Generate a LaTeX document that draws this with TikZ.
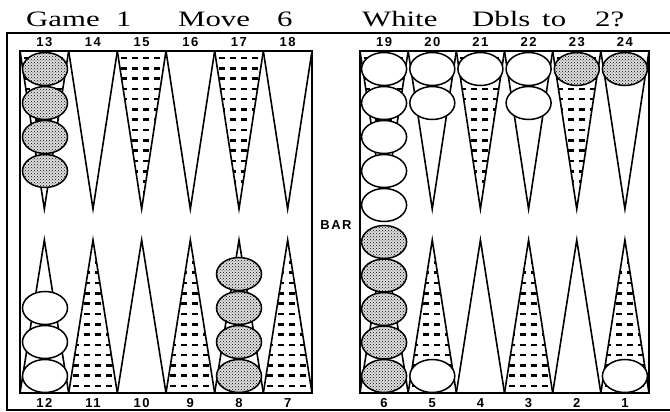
\documentclass[tikz,border=0pt]{standalone}
\usepackage{fontspec}
\usepackage{tikz}
\usetikzlibrary{shapes.geometric,patterns}
\newfontfamily\numfont[LetterSpace=12]{Liberation Sans}
\newfontfamily\ttlfont{Liberation Serif}
% one point: left x, width, base y, tip y
\newcommand{\bpoint}[4]{\draw[tri] (#1,#3) -- ({#1+#2/2},#4) -- ({#1+#2},#3);}
% point with rows of dashes, last arg 1 for top, -1 for bottom
\newcommand{\rowpoint}[5]{%
  \begin{scope}
    \clip (#1,#3) -- ({#1+#2/2},#4) -- ({#1+#2},#3) -- cycle;
    \foreach \r in {0,...,14}
      \draw[rowdash] ({#1+4},{#3+(#5)*(7+10.3*\r)}) -- ({#1+#2},{#3+(#5)*(7+10.3*\r)});
  \end{scope}
  \bpoint{#1}{#2}{#3}{#4}}

\begin{document}
\begin{tikzpicture}[x=1pt,y=-1pt]
\tikzstyle{frame}=[line width=1.5pt]
\tikzstyle{board}=[line width=2pt]
\tikzstyle{tri}=[line width=1.6pt]
\tikzstyle{rowdash}=[line width=2.6pt, dash pattern=on 6pt off 5pt]
\tikzstyle{wchk}=[ellipse, minimum width=45pt, minimum height=33pt, inner sep=0pt, draw, line width=1.5pt, fill=white]
\tikzstyle{dchk}=[wchk, preaction={fill=black!12}, pattern=crosshatch dots]
\tikzstyle{num}=[inner sep=0pt, font=\numfont\bfseries\fontsize{13}{13}\selectfont]
\tikzstyle{ttl}=[anchor=base west, inner sep=0pt, font=\ttlfont\fontsize{22}{22}\selectfont]

\useasboundingbox (0,0) rectangle (670,412);

	% title
	\node[ttl] (tgame) at (26,27) {\scalebox{1.4}[1]{Game}};
	\node[ttl] (tone) at (116,27) {\scalebox{1.4}[1]{1}};
	\node[ttl] (tmove) at (178,27) {\scalebox{1.4}[1]{Move}};
	\node[ttl] (tsix) at (277,27) {\scalebox{1.4}[1]{6}};
	\node[ttl] (twhite) at (362,27) {\scalebox{1.4}[1]{White}};
	\node[ttl] (tdbls) at (472,27) {\scalebox{1.4}[1]{Dbls}};
	\node[ttl] (tto) at (542,27) {\scalebox{1.4}[1]{to}};
	\node[ttl] (ttwo) at (595,27) {\scalebox{1.4}[1]{2?}};

	% frame and boards
	\draw[frame] (670,33) -- (7,33) -- (7,410) -- (670,410);
	\draw[board] (20,51) rectangle (312,393);
	\draw[board] (360,51) rectangle (649,393);

	% points, left board
	\rowpoint{20}{48.67}{51}{209}{1}
	\bpoint{68.67}{48.67}{51}{209}
	\rowpoint{117.33}{48.67}{51}{209}{1}
	\bpoint{166}{48.67}{51}{209}
	\rowpoint{214.67}{48.67}{51}{209}{1}
	\bpoint{263.33}{48.67}{51}{209}

	\bpoint{20}{48.67}{393}{240}
	\rowpoint{68.67}{48.67}{393}{240}{-1}
	\bpoint{117.33}{48.67}{393}{240}
	\rowpoint{166}{48.67}{393}{240}{-1}
	\bpoint{214.67}{48.67}{393}{240}
	\rowpoint{263.33}{48.67}{393}{240}{-1}

	% points, right board
	\rowpoint{360}{48.17}{51}{209}{1}
	\bpoint{408.17}{48.17}{51}{209}
	\rowpoint{456.33}{48.17}{51}{209}{1}
	\bpoint{504.5}{48.17}{51}{209}
	\rowpoint{552.67}{48.17}{51}{209}{1}
	\bpoint{600.83}{48.17}{51}{209}

	\bpoint{360}{48.17}{393}{240}
	\rowpoint{408.17}{48.17}{393}{240}{-1}
	\bpoint{456.33}{48.17}{393}{240}
	\rowpoint{504.5}{48.17}{393}{240}{-1}
	\bpoint{552.67}{48.17}{393}{240}
	\rowpoint{600.83}{48.17}{393}{240}{-1}

	% checkers
	\foreach \n in {0,...,3} \node[dchk] (c13\n) at (45,69+34*\n) {};
	\foreach \n in {0,...,4} \node[wchk] (c19\n) at (384.1,69+34*\n) {};
	\foreach \n in {0,1} \node[wchk] (c20\n) at (432.3,69+34*\n) {};
	\node[wchk] (c21) at (480.4,69) {};
	\foreach \n in {0,1} \node[wchk] (c22\n) at (528.6,69+34*\n) {};
	\node[dchk] (c23) at (576.8,69) {};
	\node[dchk] (c24) at (624.9,69) {};

	\foreach \n in {0,...,2} \node[wchk] (c12\n) at (45,376-34*\n) {};
	\foreach \n in {0,...,3} \node[dchk] (c8\n) at (239,376-34*\n) {};
	\foreach \n in {0,...,4} \node[dchk] (c6\n) at (384.1,376-33.5*\n) {};
	\node[wchk] (c5) at (432.3,376) {};
	\node[wchk] (c1) at (624.9,376) {};

	% numbers
	\foreach \n [count=\k from 0] in {13,...,18} \node[num] (l\n) at (44.3+48.67*\k,42) {\n};
	\foreach \n [count=\k from 0] in {19,...,24} \node[num] (l\n) at (384.1+48.17*\k,42) {\n};
	\foreach \n [count=\k from 0] in {12,11,10,9,8,7} \node[num] (l\n) at (44.3+48.67*\k,403) {\n};
	\foreach \n [count=\k from 0] in {6,5,4,3,2,1} \node[num] (l\n) at (384.1+48.17*\k,403) {\n};
	\node[num] (bar) at (336,225) {BAR};

\end{tikzpicture}
\end{document}
